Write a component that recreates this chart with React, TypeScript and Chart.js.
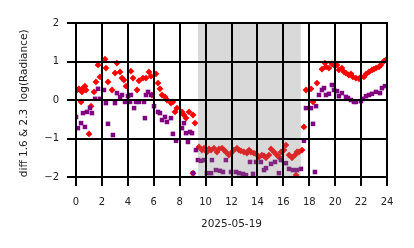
import React, { useEffect, useRef, useState } from "react";
import { Chart, registerables } from "chart.js";

Chart.register(...registerables);

// Hours of day (x) and diff values (y) for the two series
const redHours = [
  0.08, 0.23, 0.39, 0.46, 0.54, 0.69, 0.77, 1.0, 1.16, 1.39, 1.54, 1.7, 1.85, 2.24, 2.31, 2.47, 2.78, 3.01, 3.16, 3.4,
  3.55, 3.7, 3.86, 4.24, 4.4, 4.71, 4.86, 5.17, 5.4, 5.63, 5.79, 5.86, 6.17, 6.33, 6.48, 6.64, 6.87, 7.02, 7.33, 7.48,
  7.64, 7.79, 8.18, 8.33, 8.49, 8.72, 9.03, 9.18, 9.03,
  9.49, 9.72, 9.88, 10.1, 10.26, 10.42, 10.65, 10.88, 11.03, 11.27, 11.42, 11.57, 11.8, 11.96, 12.19, 12.42, 12.58,
  12.73, 12.96, 13.19, 13.35, 13.5, 13.73, 13.89, 14.12, 14.35, 14.51, 14.66, 14.89, 15.05, 15.28, 15.51, 15.66, 15.82,
  16.05, 16.2, 16.44, 16.67, 16.9, 17.05, 16.98, 17.2, 17.44,
  17.59, 17.75, 18.13, 18.29, 18.6, 18.98, 19.21, 19.29, 19.52, 19.75, 19.98, 20.14, 20.29, 20.52, 20.68, 20.83, 21.06,
  21.22, 21.37, 21.6, 21.84, 21.99, 22.22, 22.38, 22.61, 22.84, 22.99, 23.15, 23.38, 23.53, 23.77, 23.92,
];
const redValues = [
  0.26, 0.29, -0.05, 0.21, 0.31, 0.36, 0.26, -0.88, -0.16, 0.21, 0.47, 0.91, 0.6, 1.06, 0.83, 0.47, 0.26, 0.7, 0.96, 0.73,
  0.57, 0.52, 0.36, 0.75, 0.57, 0.26, 0.5, 0.57, 0.57, 0.73, 0.62, 0.13, 0.68, 0.44, 0.29, 0.13, 0.08, 0.0, -0.08, -0.05,
  -0.31, -0.21, -0.31, -0.39, -0.47, -0.31, -0.39, -0.6, -1.9,
  -1.22, -1.3, -1.25, -1.35, -1.27, -1.3, -1.25, -1.35, -1.27, -1.25, -1.3, -1.35, -1.43, -1.38, -1.3, -1.25, -1.3,
  -1.32, -1.35, -1.38, -1.3, -1.35, -1.38, -1.4, -1.48, -1.43, -1.45, -1.5, -1.43, -1.27, -1.35, -1.43, -1.48, -1.35,
  -1.3, -1.17, -1.43, -1.5, -1.43, -1.35, -1.95, -1.35, -1.3,
  -0.7, 0.26, 0.29, -0.05, 0.44, 0.8, 0.96, 0.86, 0.83, 0.94, 0.88, 0.91, 0.78, 0.83, 0.73, 0.7, 0.65,
  0.68, 0.6, 0.57, 0.55, 0.6, 0.6, 0.67, 0.73, 0.78, 0.8, 0.83, 0.86, 0.91, 1.01, 1.04,
];

const purpleHours = [
  0.0, 0.15, 0.39, 0.54, 0.69, 0.85, 1.08, 1.23, 1.47, 1.7, 1.85, 2.16, 2.31, 2.47, 2.85, 3.01, 3.16, 3.4, 3.55, 3.78,
  4.01, 4.17, 4.24, 4.48, 4.63, 4.86, 5.25, 5.32, 5.4, 5.56, 5.79, 6.02, 6.33, 6.48, 6.64, 6.87, 7.02, 7.33, 7.48, 7.72,
  8.18, 8.33, 8.49, 8.64, 8.8, 8.95, 9.03, 9.26, 9.41,
  9.65, 9.88, 10.1, 10.42, 10.49, 10.8, 11.11, 11.34, 11.57, 11.96, 12.35, 12.58, 12.89, 13.12, 13.43, 13.66, 13.89,
  14.27, 14.51, 14.66, 15.05, 15.36, 15.66, 15.82, 16.2, 16.44, 16.74, 17.05, 17.36,
  17.59, 17.75, 18.13, 18.29, 18.44, 18.52, 18.75, 18.98, 19.14, 19.29, 19.52, 19.75, 19.91, 20.14, 20.29, 20.52, 20.83,
  20.99, 21.22, 21.45, 21.6, 21.99, 22.15, 22.38, 22.61, 22.84, 23.15, 23.46, 23.61, 23.84,
];
const purpleValues = [
  -0.44, -0.73, -0.6, -0.34, -0.7, -0.31, -0.21, -0.34, 0.03, 0.29, 0.03, 0.26, -0.08, -0.62, -0.91, -0.08, 0.18, 0.08, 0.13, -0.05,
  0.1, -0.05, 0.13, -0.21, -0.05, -0.05, -0.05, -0.47, 0.13, 0.21, 0.13, -0.16, -0.31, -0.34, -0.52, -0.44, -0.57, -0.47, -0.88, -1.06,
  -0.73, -0.6, -0.86, -1.09, -0.83, -0.86, -1.9, -1.3, -1.56,
  -1.58, -1.56, -1.9, -1.9, -1.56, -1.82, -1.84, -1.87, -1.56, -1.87, -1.87, -1.9, -1.92, -1.95, -1.61, -1.92, -1.61,
  -1.61, -1.82, -1.77, -1.66, -1.61, -1.9, -1.56, -1.64, -1.79, -1.82, -1.82, -1.79,
  -1.06, -0.21, -0.21, -0.62, -1.87, -0.16, 0.13, 0.26, 0.31, 0.13, 0.16, 0.39, 0.26, 0.23, 0.1, 0.18, 0.08,
  0.05, 0.0, -0.05, -0.05, -0.03, 0.03, 0.1, 0.13, 0.16, 0.21, 0.18, 0.31, 0.36,
];

const xTickValues = [0, 2, 4, 6, 8, 10, 12, 14, 16, 18, 20, 22, 24];
const yTickValues = [-2, -1, 0, 1, 2];
const shadeStart = 9.42;
const shadeEnd = 17.35;
const xTitle = "2025-05-19";
const yTitle = "diff 1.6 & 2.3  log(Radiance)  ";

const FONT = "'DejaVu Sans', sans-serif";
const TICK_LEN = 9;

const shadePlugin = {
  id: "shadeSpan",
  afterDraw(chart: any) {
    const { ctx, chartArea, scales } = chart;
    const x0 = scales.x.getPixelForValue(shadeStart);
    const x1 = scales.x.getPixelForValue(shadeEnd);
    ctx.save();
    ctx.fillStyle = "rgba(128,128,128,0.3)";
    ctx.fillRect(x0, chartArea.top, x1 - x0, chartArea.bottom - chartArea.top);
    ctx.restore();
  },
};

type GridGeom = { xs: number[]; ys: number[]; left: number; right: number; top: number; bottom: number };

export default function App() {
  const ref = useRef<HTMLCanvasElement>(null);
  const [grid, setGrid] = useState<GridGeom | null>(null);

  useEffect(() => {
    if (!ref.current) return;
    const purple = purpleHours.map((h, i) => ({ x: h, y: purpleValues[i] }));
    const red = redHours.map((h, i) => ({ x: h, y: redValues[i] }));
    const chart = new Chart(ref.current, {
      type: "scatter",
      data: {
        datasets: [
          {
            label: "purple",
            data: purple,
            pointStyle: "rect",
            pointRadius: 3.2,
            backgroundColor: "#800080",
            borderWidth: 0,
          },
          {
            label: "red",
            data: red,
            pointStyle: "rectRot",
            pointRadius: 3.4,
            backgroundColor: "#ff0000",
            borderWidth: 0,
          },
        ],
      },
      plugins: [shadePlugin],
      options: {
        animation: false,
        responsive: false,
        layout: { padding: { left: 0, right: 27, top: 23, bottom: 17 } },
        plugins: { legend: { display: false }, tooltip: { enabled: false } },
        scales: {
          x: {
            type: "linear",
            min: 0,
            max: 24,
            afterBuildTicks: (s: any) => {
              s.ticks = xTickValues.map((v) => ({ value: v }));
            },
            afterFit: (s: any) => {
              s.height = 54;
            },
            border: { display: false },
            grid: { display: false, drawTicks: false },
            ticks: {
              color: "#222",
              font: { family: FONT, size: 10 },
              padding: 19,
              maxRotation: 0,
              autoSkip: false,
            },
            title: {
              display: true,
              text: xTitle,
              color: "#222",
              font: { family: FONT, size: 10.5 },
              padding: { top: 0, bottom: 0 },
            },
          },
          y: {
            type: "linear",
            min: -2,
            max: 2,
            afterBuildTicks: (s: any) => {
              s.ticks = yTickValues.map((v) => ({ value: v }));
            },
            afterFit: (s: any) => {
              s.width = 76;
            },
            border: { display: false },
            grid: { display: false, drawTicks: false },
            ticks: {
              color: "#222",
              font: { family: FONT, size: 10 },
              padding: 17,
              callback: (v: any) => (v < 0 ? "\u2212" + Math.abs(v) : String(v)),
            },
            title: {
              display: true,
              text: yTitle,
              color: "#222",
              font: { family: FONT, size: 10.5 },
              padding: { top: 17.5, bottom: 0 },
            },
          },
        },
      },
    });
    // Grid geometry taken from the chart's own scales
    const area = chart.chartArea;
    setGrid({
      xs: xTickValues.map((v) => Math.round(chart.scales.x.getPixelForValue(v))),
      ys: yTickValues.map((v) => Math.round(chart.scales.y.getPixelForValue(v))),
      left: area.left,
      right: area.right,
      top: area.top,
      bottom: area.bottom,
    });
    return () => chart.destroy();
  }, []);

  return (
    <div style={{ position: "absolute", left: 0, top: 0, width: 414, height: 248 }}>
      <canvas ref={ref} width={414} height={248} style={{ display: "block", position: "absolute", left: 0, top: 0 }} />
      {grid && (
        <svg
          width={414}
          height={248}
          style={{ position: "absolute", left: 0, top: 0, pointerEvents: "none" }}
          shapeRendering="crispEdges"
        >
          {grid.xs.map((x, i) => (
            <line key={"v" + i} x1={x} x2={x} y1={grid.top - 1} y2={grid.bottom + TICK_LEN} stroke="#000" strokeWidth={2} />
          ))}
          {grid.ys.map((y, i) => (
            <line key={"h" + i} x1={grid.left - TICK_LEN} x2={grid.right + 1} y1={y} y2={y} stroke="#000" strokeWidth={2} />
          ))}
        </svg>
      )}
    </div>
  );
}
